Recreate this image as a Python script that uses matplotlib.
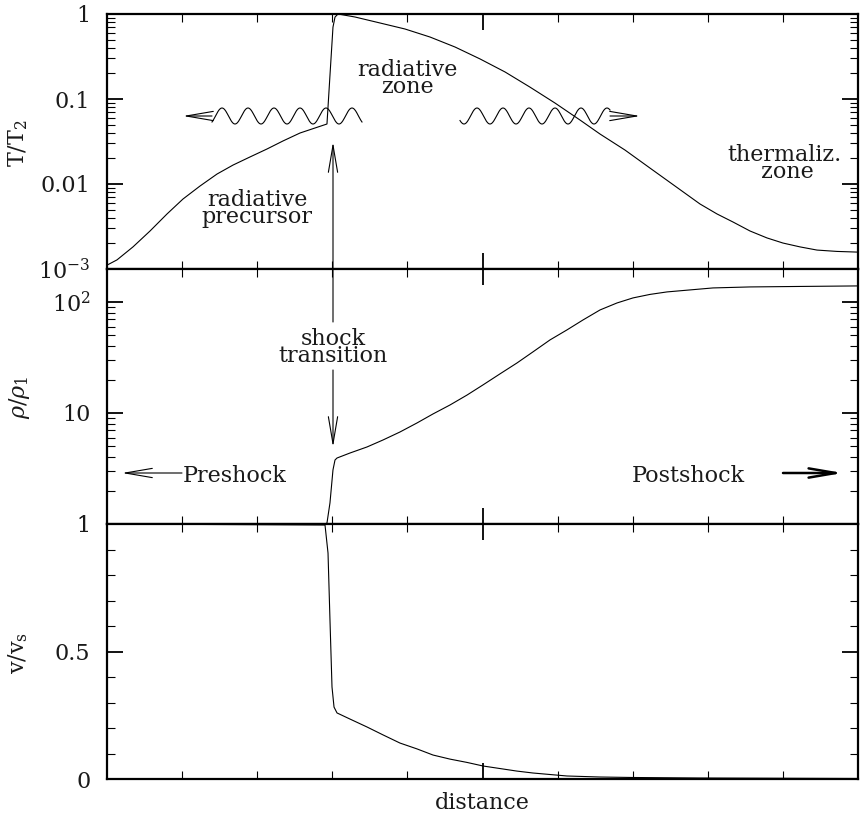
import numpy as np
import matplotlib
matplotlib.use('Agg')
import matplotlib.pyplot as plt
from matplotlib.ticker import FixedLocator, FixedFormatter, MultipleLocator, LogLocator, NullFormatter

# ---------------- data ----------------
x_T = [0.0, 0.133, 0.346, 0.573, 0.799, 1.012, 1.238, 1.465, 1.678, 1.904, 2.130,
       2.344, 2.570, 2.770, 2.929, 2.969, 3.009, 3.036, 3.076, 3.302, 3.635, 3.968,
       4.301, 4.634, 4.967, 5.300, 5.632, 5.965, 6.298, 6.565, 6.897, 7.230, 7.563,
       7.896, 8.123, 8.336, 8.562, 8.788, 9.001, 9.228, 9.454, 9.720, 10.0]
T_vals = [1.11e-3, 1.28e-3, 1.82e-3, 2.80e-3, 4.44e-3, 6.66e-3, 9.46e-3, 0.0131, 0.0167,
          0.0208, 0.0258, 0.0321, 0.0398, 0.0456, 0.0508, 0.19, 0.70, 0.92, 1.0, 0.922,
          0.784, 0.666, 0.536, 0.409, 0.296, 0.208, 0.138, 0.0897, 0.0566, 0.0387,
          0.0251, 0.0154, 9.47e-3, 5.82e-3, 4.44e-3, 3.57e-3, 2.80e-3, 2.32e-3,
          2.02e-3, 1.82e-3, 1.67e-3, 1.61e-3, 1.58e-3]

x_rho = [0.0, 2.903, 2.929, 2.969, 3.009, 3.036, 3.063, 3.236, 3.462, 3.675, 3.901,
         4.128, 4.341, 4.567, 4.794, 5.007, 5.233, 5.459, 5.672, 5.899, 6.125, 6.338,
         6.565, 6.791, 7.004, 7.230, 7.457, 7.763, 8.069, 8.562, 9.228, 10.0]
rho_vals = [1.0, 1.0, 1.02, 1.55, 3.07, 3.77, 3.93, 4.36, 4.94, 5.71, 6.74, 8.13, 9.80,
            11.8, 14.5, 17.9, 22.5, 28.2, 35.5, 45.5, 56.0, 68.8, 84.7, 97.9, 108.7,
            116.9, 123.1, 128.3, 133.7, 136.5, 137.9, 139.4]

x_v = [0.0, 2.903, 2.943, 2.969, 2.996, 3.023, 3.063, 3.236, 3.462, 3.675, 3.901,
       4.128, 4.341, 4.567, 4.794, 5.007, 5.233, 5.459, 5.672, 5.899, 6.125, 6.565,
       7.004, 7.896, 10.0]
v_vals = [1.0, 0.996, 0.886, 0.624, 0.361, 0.282, 0.259, 0.235, 0.204, 0.173, 0.141,
          0.118, 0.094, 0.078, 0.065, 0.051, 0.041, 0.031, 0.0235, 0.0176, 0.0118,
          0.0078, 0.0059, 0.0039, 0.002]

T_ticks = [1e-3, 1e-2, 1e-1, 1]
T_ticklabels = [r'$10^{-3}$', '0.01', '0.1', '1']
rho_ticks = [1, 10, 100]
rho_ticklabels = ['1', '10', r'$10^{2}$']
v_ticks = [0, 0.5, 1]
v_ticklabels = ['0', '0.5', '1']

# ---------------- style ----------------
plt.rcParams['font.family'] = ['DejaVu Serif']
plt.rcParams['mathtext.fontset'] = 'dejavuserif'
FS = 16
TXT = '#1a1a1a'

W, H = 863, 814
fig = plt.figure(figsize=(W / 100, H / 100), dpi=100)


def fp(px, py):
    return (px / W, 1 - py / H)


L, R = 107, 858
panels = [(14, 269), (269, 524), (524, 779)]
axes = []
for (t, b) in panels:
    ax = fig.add_axes([L / W, 1 - b / H, (R - L) / W, (b - t) / H])
    axes.append(ax)

ax1, ax2, ax3 = axes

ax1.plot(x_T, T_vals, color='black', lw=0.8)
ax1.set_yscale('log')
ax1.set_ylim(1e-3, 1)

ax2.plot(x_rho, rho_vals, color='black', lw=0.8)
ax2.set_yscale('log')
ax2.set_ylim(1, 198)

ax3.plot(x_v, v_vals, color='black', lw=0.8)
ax3.set_ylim(0, 1)

for ax in axes:
    ax.set_xlim(0, 10)
    ax.xaxis.set_major_locator(MultipleLocator(5))
    ax.xaxis.set_minor_locator(MultipleLocator(1))
    ax.xaxis.set_major_formatter(NullFormatter())
    ax.tick_params(which='both', direction='in', top=True, right=True,
                   labelsize=FS, pad=12, labelcolor=TXT)
    ax.tick_params(which='major', length=11.5, width=1.3)
    ax.tick_params(which='minor', length=5.8, width=0.8)
    for s in ax.spines.values():
        s.set_linewidth(1.6)

ax1.yaxis.set_major_locator(FixedLocator(T_ticks))
ax1.yaxis.set_major_formatter(FixedFormatter(T_ticklabels))
ax1.yaxis.set_minor_locator(LogLocator(base=10, subs=np.arange(2, 10)))
ax1.yaxis.set_minor_formatter(NullFormatter())

ax2.yaxis.set_major_locator(FixedLocator(rho_ticks))
ax2.yaxis.set_major_formatter(FixedFormatter(rho_ticklabels))
ax2.yaxis.set_minor_locator(LogLocator(base=10, subs=np.arange(2, 10)))
ax2.yaxis.set_minor_formatter(NullFormatter())

ax3.yaxis.set_major_locator(FixedLocator(v_ticks))
ax3.yaxis.set_major_formatter(FixedFormatter(v_ticklabels))
ax3.yaxis.set_minor_locator(MultipleLocator(0.1))
ax3.yaxis.set_minor_formatter(NullFormatter())

# ---------------- labels ----------------
fig.text(*fp(18, 143), r'T/T$_2$', rotation=90, ha='center', va='center', fontsize=FS, color=TXT)
fig.text(*fp(20, 397), r'$\rho/\rho_1$', rotation=90, ha='center', va='center', fontsize=FS, color=TXT)
fig.text(*fp(18, 653), r'v/v$_\mathrm{s}$', rotation=90, ha='center', va='center', fontsize=FS, color=TXT)
fig.text(*fp(482, 809), 'distance', ha='center', va='baseline', fontsize=FS, color=TXT)

# (px, baseline of last line)
texts = [
    ('radiative\nzone', 407, 93),
    ('radiative\nprecursor', 257, 223),
    ('thermaliz.\n zone', 784, 178),
    ('shock\ntransition', 333, 362),
]
for s, px, py in texts:
    fig.text(*fp(px, py), s, ha='center', va='baseline', ma='center',
             linespacing=0.72, fontsize=FS, color=TXT)
fig.text(*fp(183, 482), 'Preshock', ha='left', va='baseline', fontsize=FS, color=TXT)
fig.text(*fp(632, 482), 'Postshock', ha='left', va='baseline', fontsize=FS, color=TXT)


# ---------------- arrows ----------------
def arrow(p_from, p_to, lw=0.8):
    fig.add_artist(matplotlib.patches.FancyArrowPatch(
        (p_from[0], H - p_from[1]), (p_to[0], H - p_to[1]),
        transform=None, arrowstyle='->,head_length=1.4,head_width=0.24',
        mutation_scale=10 * 100 / 72, lw=lw, color='black',
        shrinkA=0, shrinkB=0))


arrow((333, 322), (333, 142))
arrow((333, 370), (333, 447))
arrow((182, 473), (122, 473))
arrow((783, 473), (843, 473), lw=1.8)
arrow((212, 116), (183, 116))
arrow((610, 116), (640, 116))

# wavy lines (decoration)
P = 26.0
for x0, x1, xpk in [(212, 362, 222), (460, 610, 477)]:
    xs = np.linspace(x0, x1, 400)
    ys = 116 - 8 * np.cos(2 * np.pi * (xs - xpk) / P)
    fig.add_artist(matplotlib.lines.Line2D(xs, H - ys, transform=None,
                                           color='black', lw=0.8))

fig.savefig('out.png', dpi=100)
